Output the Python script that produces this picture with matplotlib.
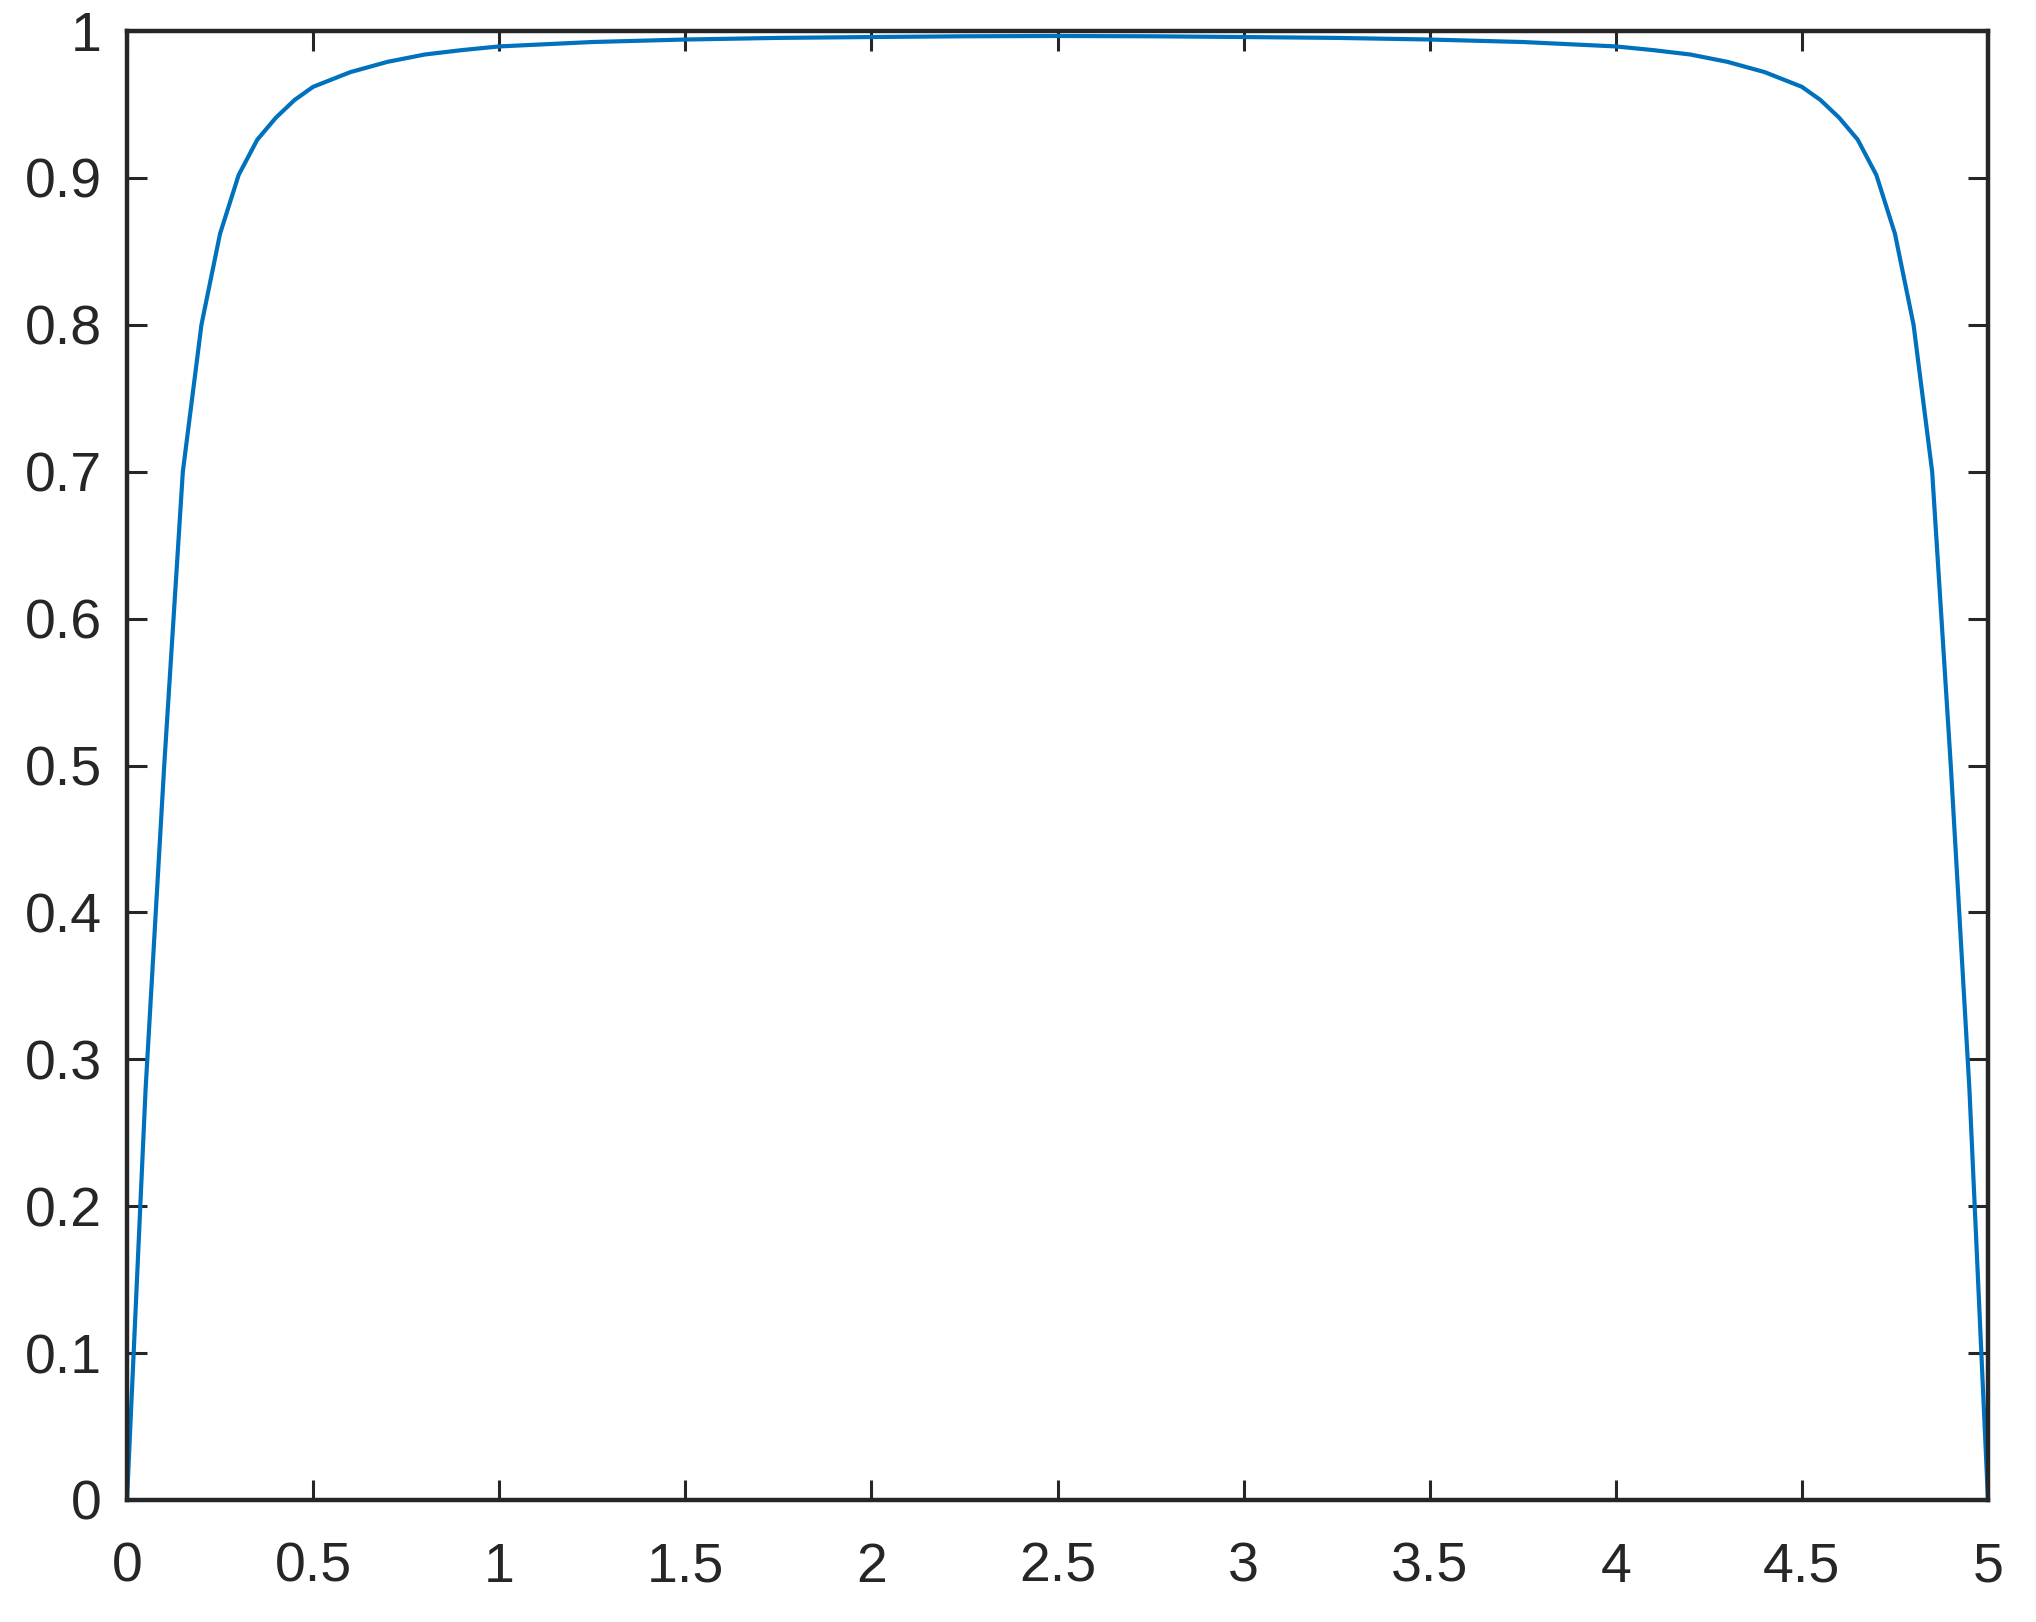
import matplotlib
matplotlib.use("Agg")
import matplotlib.pyplot as plt

# ---- data ----
x_left = [0, 0.05, 0.1, 0.15, 0.2, 0.25, 0.3, 0.35, 0.4, 0.45, 0.5,
          0.6, 0.7, 0.8, 0.9, 1.0, 1.25, 1.5, 1.75, 2.0, 2.25, 2.5]
y_left = [0, 0.28, 0.50, 0.70, 0.80, 0.862, 0.902, 0.926, 0.941, 0.953, 0.962,
          0.972, 0.979, 0.984, 0.987, 0.9895, 0.9925, 0.9942, 0.9953, 0.9959, 0.9964, 0.9966]
x_right = [2.75, 3.0, 3.25, 3.5, 3.75, 4.0, 4.1, 4.2, 4.3, 4.4, 4.5,
           4.55, 4.6, 4.65, 4.7, 4.75, 4.8, 4.85, 4.9, 4.95, 5.0]
y_right = [0.9964, 0.9959, 0.9953, 0.9942, 0.9925, 0.9895, 0.987, 0.984, 0.979, 0.972, 0.962,
           0.953, 0.941, 0.926, 0.902, 0.862, 0.80, 0.70, 0.50, 0.28, 0]

x_ticks = [0, 0.5, 1, 1.5, 2, 2.5, 3, 3.5, 4, 4.5, 5]
x_ticklabels = ["0", "0.5", "1", "1.5", "2", "2.5", "3", "3.5", "4", "4.5", "5"]
y_ticks = [0, 0.1, 0.2, 0.3, 0.4, 0.5, 0.6, 0.7, 0.8, 0.9, 1.0]
y_ticklabels = ["0", "0.1", "0.2", "0.3", "0.4", "0.5", "0.6", "0.7", "0.8", "0.9", "1"]

x = x_left + x_right
y = y_left + y_right

plt.rcParams['font.family'] = ['Liberation Sans', 'DejaVu Sans']
axis_color = '#262626'

fig = plt.figure(figsize=(10.18, 8.11), dpi=200)
ax = fig.add_axes([127 / 2036, (1622 - 1500) / 1622, (1988 - 127) / 2036, (1500 - 31) / 1622])

ax.plot(x, y, color='#0072BD', linewidth=1.5, solid_joinstyle='miter')

ax.set_xlim(0, 5)
ax.set_ylim(0, 1)
ax.set_xticks(x_ticks)
ax.set_xticklabels(x_ticklabels)
ax.set_yticks(y_ticks)
ax.set_yticklabels(y_ticklabels)

for s in ax.spines.values():
    s.set_color(axis_color)
    s.set_linewidth(1.6)

ax.tick_params(axis='both', which='both', direction='in', length=7.2, width=1.1,
               color=axis_color, labelcolor=axis_color, labelsize=20,
               top=True, right=True)
ax.tick_params(axis='x', pad=15)
ax.tick_params(axis='y', pad=9)

fig.savefig("out.png", dpi=200)
